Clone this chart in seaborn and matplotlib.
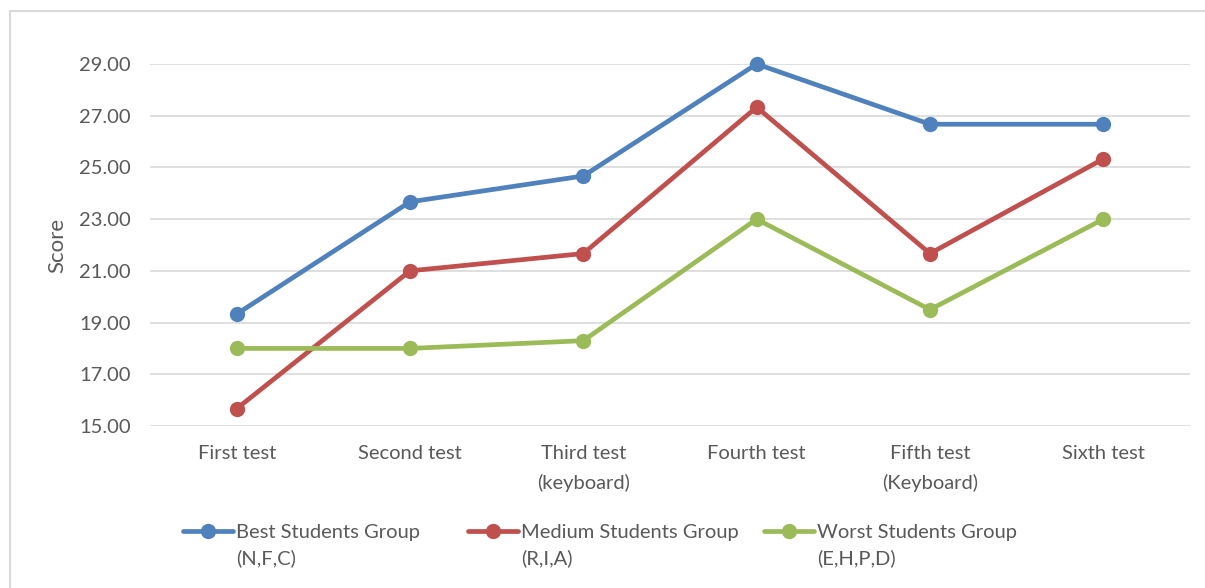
import matplotlib.pyplot as plt
import matplotlib.patches as mpatches
import pandas as pd
import seaborn as sns

# data
tests = ['First test', 'Second test', 'Third test\n(keyboard)', 'Fourth test',
         'Fifth test\n(Keyboard)', 'Sixth test']
best = [19.33, 23.67, 24.67, 29.00, 26.67, 26.67]
medium = [15.67, 21.00, 21.67, 27.33, 21.67, 25.33]
worst = [18.00, 18.00, 18.30, 23.00, 19.50, 23.00]
groups = ['Best Students Group', 'Medium Students Group', 'Worst Students Group']
members = ['(N,F,C)', '(R,I,A)', '(E,H,P,D)']
colors = ['#4F81BD', '#C0504D', '#9BBB59']
yticks = [15, 17, 19, 21, 23, 25, 27, 29]

rows = []
for g, vals in zip(groups, [best, medium, worst]):
    for i, v in enumerate(vals):
        rows.append({'pos': i, 'Score': v, 'group': g})
df = pd.DataFrame(rows)

sns.set_style('white')
plt.rcParams['font.family'] = ['Lato', 'DejaVu Sans']
txt = '#595959'
fs = 14.5

fig = plt.figure(figsize=(12.05, 5.88), dpi=100)
ax = fig.add_axes([150 / 1205, 1 - 426 / 588, 1040 / 1205, 362 / 588])

# outer chart border (Excel style)
fig.patches.append(mpatches.Rectangle((10 / 1205, -0.05), 1.2, 1 - 11 / 588 + 0.05,
                                      transform=fig.transFigure, fill=False,
                                      edgecolor='#D9D9D9', lw=1.5, zorder=0))

sns.lineplot(data=df, x='pos', y='Score', hue='group', palette=colors,
             marker='o', markersize=11, markeredgewidth=0, linewidth=3.4,
             ax=ax, clip_on=False, zorder=3)

ax.set_xlim(-0.5, 5.5)
ax.set_ylim(15, 29)
ax.set_xticks(range(len(tests)))
ax.set_xticklabels(tests, fontsize=fs, color=txt, linespacing=1.75)
ax.set_yticks(yticks)
ax.set_yticklabels([f'{v:.2f}' for v in yticks], fontsize=fs, color=txt)
ax.tick_params(axis='x', length=0, pad=14)
ax.tick_params(axis='y', length=0, pad=14)
ax.set_xlabel('')
ax.set_ylabel('Score', fontsize=16, color=txt, labelpad=8)
ax.grid(axis='y', color='#D9D9D9', lw=1.2)
for s in ax.spines.values():
    s.set_visible(False)

# legend: one entry per column, Excel-like placement
handles, labels = ax.get_legend_handles_labels()
ax.get_legend().remove()
legs = []
for h, lab, xpx in zip(handles, labels, [183, 468, 764]):
    lg = fig.legend([h], [lab], loc='upper left',
                    bbox_to_anchor=(xpx / 1205, 1 - 524 / 588),
                    frameon=False, fontsize=fs, handlelength=2.5,
                    handletextpad=0.15, labelcolor=txt, borderaxespad=0,
                    borderpad=0)
    legs.append(lg)

# second line of each legend entry, under its label
fig.canvas.draw()
inv = fig.transFigure.inverted()
for lg, m in zip(legs, members):
    bb = lg.get_texts()[0].get_window_extent()
    x0, y0 = inv.transform((bb.x0, bb.y0))
    fig.text(x0, y0 - 8 / 588, m, fontsize=fs, color=txt, ha='left', va='top')

fig.savefig('out.png', dpi=100)
